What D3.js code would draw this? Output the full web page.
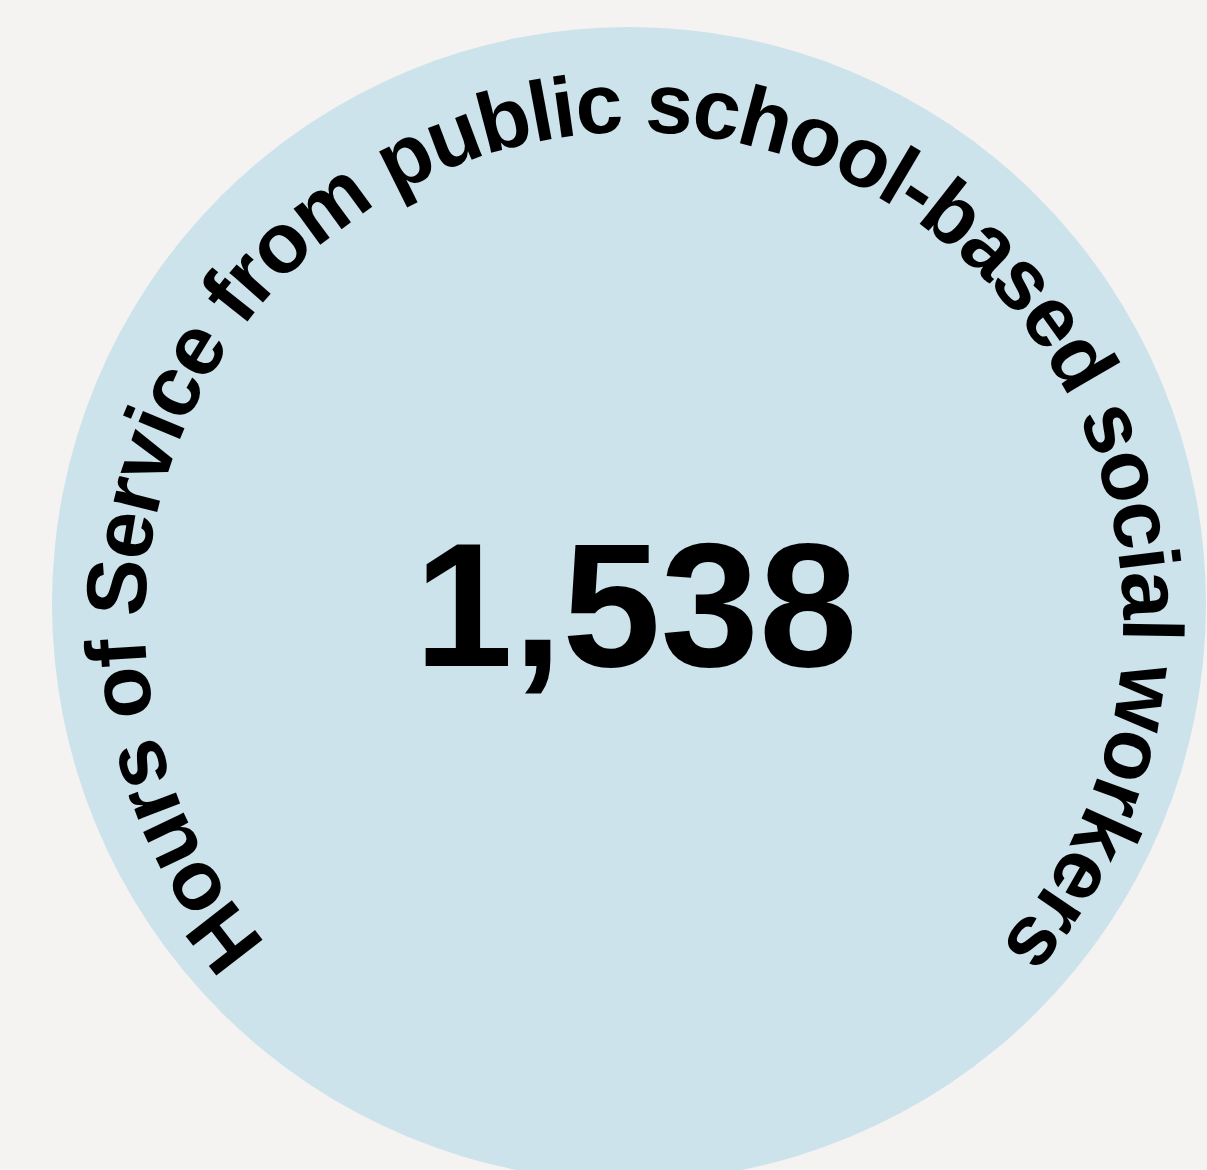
<!DOCTYPE html>
<html>
<head>
<meta charset="utf-8">
<script src="https://cdn.jsdelivr.net/npm/d3@7"></script>
<style>
  html, body { margin: 0; padding: 0; background: #f5f3f1; }
  svg { display: block; }
</style>
</head>
<body>
<svg id="chart" width="1207" height="1170"></svg>
<script>
// ---- data ----
const labels = ["Hours of Service from public school-based social workers"];
const values = [1538];

// ---- layout ----
const W = 1207, H = 1170;
const svg = d3.select("#chart");
svg.append("rect").attr("width", W).attr("height", H).attr("fill", "#f5f3f1");

const bg = { cx: 629, cy: 604, r: 577 };
const tc = { cx: 634, cy: 621, r: 489 };
const arcFont = { family: "'Liberation Sans', Arial, sans-serif", size: 85, spacing: -1.9 };

svg.append("circle")
  .attr("cx", bg.cx).attr("cy", bg.cy).attr("r", bg.r)
  .attr("fill", "#cde3eb");

// circular path starting at bottom, going clockwise (left, top, right)
const p = d3.path();
p.moveTo(tc.cx, tc.cy + tc.r);
p.arc(tc.cx, tc.cy, tc.r, Math.PI / 2, Math.PI / 2 + 2 * Math.PI - 0.0001, false);
svg.append("defs").append("path").attr("id", "arcPath").attr("d", p.toString());

// measure the label so each word can sit on the arc, centred at the top
const words = labels[0].split(" ");
const meas = svg.append("text")
  .attr("font-family", arcFont.family)
  .attr("font-weight", "bold")
  .attr("font-size", arcFont.size)
  .attr("letter-spacing", arcFont.spacing)
  .attr("x", -5000).attr("y", -5000)
  .style("white-space", "pre");
function measure(s) { meas.text(s); return meas.node().getComputedTextLength(); }
const total = measure(labels[0]);
const startOff = Math.PI * tc.r - total / 2;
const wordData = words.map((w, i) => ({
  word: w,
  offset: startOff + (i === 0 ? 0 : measure(words.slice(0, i).join(" ") + " "))
}));
meas.remove();

svg.selectAll("text.arc")
  .data(wordData)
  .join("text")
  .attr("class", "arc")
  .attr("font-family", arcFont.family)
  .attr("font-weight", "bold")
  .attr("font-size", arcFont.size)
  .attr("letter-spacing", arcFont.spacing)
  .attr("fill", "#000")
  .append("textPath")
  .attr("href", "#arcPath")
  .attr("startOffset", d => d.offset)
  .text(d => d.word);

const fmt = d3.format(",");
svg.selectAll("text.value")
  .data(values)
  .join("text")
  .attr("class", "value")
  .attr("x", 636)
  .attr("y", 666)
  .attr("text-anchor", "middle")
  .attr("font-family", "'Liberation Sans', Arial, sans-serif")
  .attr("font-weight", "bold")
  .attr("font-size", 177)
  .attr("fill", "#000")
  .text(d => fmt(d));
</script>
</body>
</html>
